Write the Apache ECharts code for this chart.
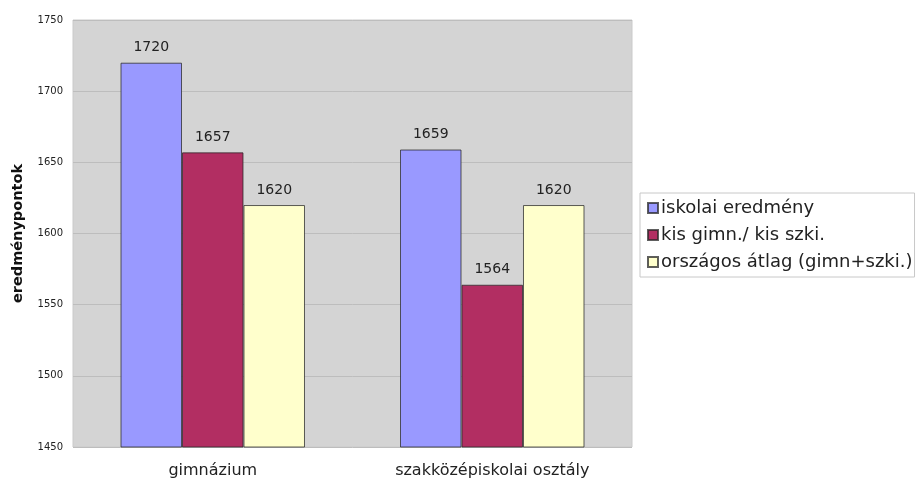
<!DOCTYPE html>
<html><head><meta charset="utf-8">
<script src="https://cdn.jsdelivr.net/npm/echarts@6/dist/echarts.min.js"></script>
<style>html,body{margin:0;padding:0;background:#fff}#c{width:921px;height:481px}</style>
</head><body><div id="c"></div>
<script>
const categories = ['gimnázium', 'szakközépiskolai osztály'];
const seriesNames = ['iskolai eredmény', 'kis gimn./ kis szki.', 'országos átlag (gimn+szki.)'];
const iskolai = [1720, 1659];
const kis = [1657, 1564];
const orszagos = [1620, 1620];
const colors = ['#9999FF', '#B22E62', '#FFFFCC'];
const values = [iskolai, kis, orszagos];

const chart = echarts.init(document.getElementById('c'), null, {renderer: 'canvas'});
chart.setOption({
  animation: false,
  textStyle: {fontFamily: 'DejaVu Sans, sans-serif'},
  grid: {left: 73, top: 20, right: 289, bottom: 34, show: true, backgroundColor: '#D4D4D4', borderColor: '#CACACA', borderWidth: 1},
  legend: {
    orient: 'vertical', left: 640, top: 193,
    itemWidth: 10, itemHeight: 10, itemGap: 9,
    icon: 'rect',
    borderColor: '#C8C8C8', borderWidth: 1, padding: [6, 2, 6, 7],
    textStyle: {fontFamily: 'DejaVu Sans, sans-serif', fontSize: 18, color: '#222', padding: [0, 0, 0, -2]},
    data: seriesNames
  },
  xAxis: {
    type: 'category', data: categories,
    axisLine: {show: false}, axisTick: {show: false},
    axisLabel: {fontFamily: 'DejaVu Sans, sans-serif', fontSize: 16, color: '#222', margin: 16}
  },
  yAxis: {
    type: 'value', min: 1450, max: 1750, interval: 50,
    name: 'eredménypontok', nameLocation: 'middle', nameGap: 47, nameRotate: 90,
    nameTextStyle: {fontFamily: 'DejaVu Sans, sans-serif', fontSize: 14.5, fontWeight: 'bold', color: '#111'},
    axisLine: {show: false}, axisTick: {show: false},
    axisLabel: {fontFamily: 'DejaVu Sans, sans-serif', fontSize: 10, color: '#222', margin: 10, formatter: v => String(v)},
    splitLine: {lineStyle: {color: '#BDBDBD', width: 1}}
  },
  series: seriesNames.map((n, i) => ({
    name: n, type: 'bar', data: values[i],
    barGap: '0%', barCategoryGap: '34%',
    itemStyle: {color: colors[i], borderColor: 'rgba(40,40,40,0.75)', borderWidth: 1},
    label: {show: true, position: 'top', distance: 8, fontFamily: 'DejaVu Sans, sans-serif', fontSize: 14, color: '#222'}
  }))
});
</script></body></html>
